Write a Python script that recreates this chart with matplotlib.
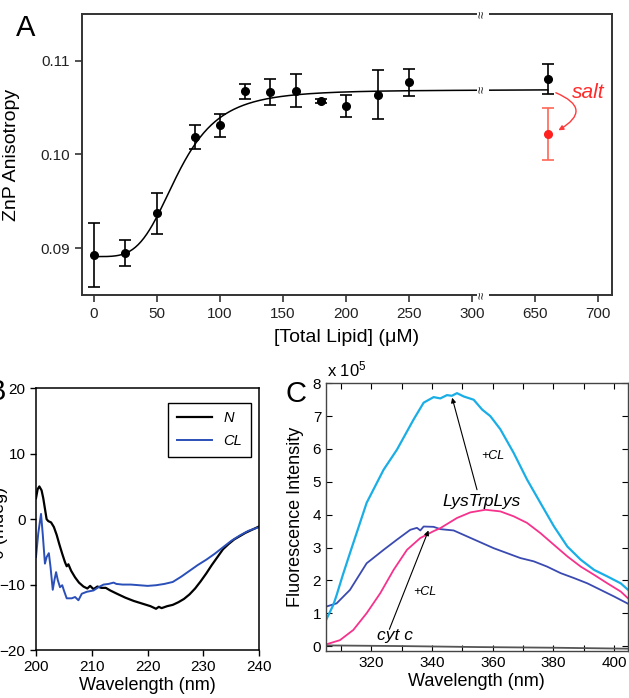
import numpy as np
import matplotlib
matplotlib.use('Agg')
import matplotlib.pyplot as plt
from matplotlib.patches import FancyArrowPatch

plt.rcParams['font.family'] = ['Liberation Sans', 'DejaVu Sans']
plt.rcParams['mathtext.default'] = 'regular'

# ---------------- Panel A data ----------------
lipid = [0, 25, 50, 80, 100, 120, 140, 160, 180, 200, 225, 250, 660]
aniso = [0.08925, 0.08947, 0.09374, 0.10189, 0.1031, 0.10676, 0.10669,
         0.10683, 0.10569, 0.1052, 0.10637, 0.10769, 0.10808]
aniso_err = [0.0034, 0.0014, 0.0022, 0.0013, 0.0012, 0.0008, 0.0014,
             0.0018, 0.0002, 0.0012, 0.0026, 0.0014, 0.0016]
salt_lipid = [660]
salt_aniso = [0.1022]
salt_err = [0.0028]
# Hill-type fit parameters of the drawn binding curve
fit_min, fit_max, fit_K, fit_n = 0.0891, 0.1069, 67.0, 4.0
a_xticks = [0, 50, 100, 150, 200, 250, 300, 650, 700]
a_yticks = [0.09, 0.10, 0.11]
break_low, break_high = 300, 650

# ---------------- Panel B data ----------------
cd_wl_n = [200, 200.3, 200.6, 201.0, 201.3, 201.6, 201.9, 202.2, 202.7, 203.2,
           203.7, 204.2, 204.7, 205.2, 205.5, 205.8, 206.3, 207.0, 207.7, 208.5,
           209.2, 209.7, 210.3, 211.0, 211.7, 212.5, 213.3, 214.5, 216.0, 217.5,
           219.0, 220.5, 221.5, 222.0, 222.5, 223.5, 224.5, 225.5, 226.5, 227.5,
           228.5, 229.5, 230.5, 231.5, 232.5, 233.5, 234.5, 235.5, 236.5, 237.5,
           238.5, 239.5, 240.0]
cd_n = [3.2, 4.6, 5.0, 4.4, 3.2, 1.6, 0.0, -0.3, -0.5, -1.2,
        -2.4, -3.9, -5.3, -6.6, -7.2, -6.9, -7.9, -8.9, -9.7, -10.3,
        -10.6, -10.2, -10.7, -10.3, -10.5, -10.5, -10.9, -11.4, -12.0, -12.5,
        -12.9, -13.3, -13.7, -13.4, -13.6, -13.3, -13.1, -12.7, -12.2, -11.5,
        -10.6, -9.5, -8.3, -7.0, -5.8, -4.6, -3.8, -3.1, -2.6, -2.1,
        -1.7, -1.3, -1.1]
cd_wl_cl = [200, 200.4, 200.9, 201.2, 201.6, 201.9, 202.3, 202.6, 203.0, 203.3,
            203.6, 203.9, 204.3, 204.7, 205.0, 205.5, 206.4, 207.0, 207.6, 208.2,
            209.1, 210.3, 211.2, 212.1, 213.0, 213.9, 214.4, 215.5, 217.0, 218.5,
            220.0, 221.5, 223.0, 224.5, 226.0, 227.5, 229.0, 230.5, 232.0, 233.5,
            235.0, 236.5, 238.0, 239.0, 240.0]
cd_cl = [-5.8, -2.2, 0.8, -2.2, -6.8, -5.8, -5.2, -7.3, -10.8, -9.3,
         -8.1, -9.3, -10.4, -10.1, -10.9, -12.1, -12.1, -11.9, -12.4, -11.4,
         -11.1, -10.9, -10.4, -10.0, -9.9, -9.7, -9.9, -10.0, -10.0, -10.1,
         -10.2, -10.1, -9.9, -9.6, -8.8, -7.9, -7.0, -6.2, -5.3, -4.3,
         -3.3, -2.5, -1.8, -1.5, -1.2]
b_xticks = [200, 210, 220, 230, 240]
b_yticks = [-20, -10, 0, 10, 20]

# ---------------- Panel C data (units of 1e5) ----------------
fl_wl_cyan = [305, 307.4, 308.5, 310.5, 312.9, 318.4, 324.0, 328.4, 333.9, 337.2,
              340.5, 342.7, 344.9, 346.5, 348.2, 350.4, 353.7, 356.5, 359.2, 362.5,
              366.9, 371.3, 375.7, 380.2, 384.6, 389.0, 393.4, 397.8, 402.2, 405.0]
fl_cyan = [0.79, 1.25, 1.55, 2.15, 2.83, 4.36, 5.37, 5.98, 6.90, 7.41,
           7.58, 7.54, 7.64, 7.62, 7.70, 7.60, 7.50, 7.20, 7.00, 6.60,
           5.88, 5.07, 4.36, 3.64, 3.03, 2.63, 2.32, 2.12, 1.91, 1.68]
fl_wl_pink = [305, 309.6, 314.0, 318.4, 322.9, 327.3, 331.7, 336.1, 340.5, 342.7,
              345.0, 348.2, 352.6, 357.6, 362.5, 366.9, 371.3, 375.7, 380.2, 384.6,
              389.0, 393.4, 397.8, 402.2, 405.0]
fl_pink = [0.05, 0.18, 0.49, 1.00, 1.61, 2.32, 2.93, 3.29, 3.50, 3.59,
           3.72, 3.90, 4.07, 4.15, 4.10, 3.95, 3.75, 3.44, 3.08, 2.73,
           2.42, 2.17, 1.91, 1.66, 1.42]
fl_wl_blue = [305, 308.5, 312.9, 318.4, 324.0, 328.4, 332.8, 335.0, 336.1, 337.2,
              340.5, 342.7, 347.1, 351.5, 355.9, 360.3, 364.7, 369.1, 373.5, 377.9,
              382.4, 386.8, 391.2, 395.6, 400.0, 405.0]
fl_blue = [1.20, 1.30, 1.71, 2.52, 2.93, 3.24, 3.54, 3.60, 3.52, 3.64,
           3.63, 3.56, 3.52, 3.34, 3.16, 2.98, 2.83, 2.68, 2.58, 2.42,
           2.22, 2.07, 1.91, 1.71, 1.51, 1.27]
fl_wl_gray = [305, 330, 355, 380, 405]
fl_gray = [0.02, 0.0, -0.03, -0.05, -0.08]
c_xticks = [320, 340, 360, 380, 400]
c_xminor = [310, 330, 350, 370, 390]
c_yticks = [0, 1, 2, 3, 4, 5, 6, 7, 8]

W, H = 629, 698
fig = plt.figure(figsize=(W / 100, H / 100), dpi=100)


def fr(x0, y0, x1, y1):
    return [x0 / W, 1 - y1 / H, (x1 - x0) / W, (y1 - y0) / H]


def fx(px):
    return px / W


def fy(py):
    return 1 - py / H


# ================= Panel A =================
def tx(x):
    x = np.asarray(x, dtype=float)
    return np.where(x > break_low, x - (break_high - break_low - 50), x)

axA = fig.add_axes(fr(82, 14, 611.6, 295))
col_sp = '#333333'
xs = np.concatenate([np.linspace(0, 300, 400), np.linspace(650, 660, 5)])
ys = fit_min + (fit_max - fit_min) * xs**fit_n / (fit_K**fit_n + xs**fit_n)
axA.plot(tx(xs), ys, color='black', lw=1.1, zorder=2)
axA.errorbar(tx(lipid), aniso, yerr=aniso_err, fmt='o', color='black',
             ms=5.5, capsize=4, elinewidth=1.2, capthick=1.2, zorder=3)
axA.errorbar(tx(salt_lipid), salt_aniso, yerr=salt_err, fmt='o',
             color='#ff2020', ecolor='#ff6655', ms=5.5, capsize=4,
             elinewidth=1.2, capthick=1.2, zorder=3)
axA.set_xlim(-9.2, 410.5)
axA.set_ylim(0.085, 0.115)
axA.set_xticks(tx(a_xticks))
axA.set_xticklabels([str(v) for v in a_xticks])
axA.set_yticks(a_yticks)
axA.set_yticklabels(['%.2f' % v for v in a_yticks])
axA.tick_params(direction='out', length=5, width=1.1, labelsize=11,
                colors='#222222')
for s in axA.spines.values():
    s.set_color(col_sp)
    s.set_linewidth(1.4)
axA.set_xlabel('[Total Lipid] (\u03bcM)', fontsize=14, labelpad=6)
axA.set_ylabel('ZnP Anisotropy', fontsize=14)
axA.yaxis.set_label_coords(-0.117, 0.5)
xb = 308.6
for yv, trans in [(1.0, axA.get_xaxis_transform()),
                  (0.0, axA.get_xaxis_transform()),
                  (fit_max, axA.transData)]:
    axA.text(xb, yv, '\u2248', transform=trans, rotation=90, fontsize=9.5,
             ha='center', va='center', color='#222222', clip_on=False,
             bbox=dict(boxstyle='square,pad=0.02', fc='white', ec='none'),
             zorder=5)
fig.text(fx(588), fy(92), 'salt', fontsize=15, style='italic',
         color='#ff2a2a', ha='center', va='center')
arr = FancyArrowPatch((fx(553.3), fy(91.7)), (fx(556), fy(131.7)),
                      transform=fig.transFigure,
                      connectionstyle='arc3,rad=-1.05', arrowstyle='-|>',
                      mutation_scale=7, color='#ff3a3a', lw=1.0)
fig.patches.append(arr)
fig.text(fx(26), fy(28), 'A', fontsize=21, ha='center', va='center')

# ================= Panel B =================
axB = fig.add_axes(fr(36, 388.3, 259.3, 650))
axB.plot(cd_wl_n, cd_n, color='black', lw=1.6, label='N')
axB.plot(cd_wl_cl, cd_cl, color='#2a4fb8', lw=1.4, label='CL')
axB.set_xlim(200, 240)
axB.set_ylim(-20, 20)
axB.set_xticks(b_xticks)
axB.set_yticks(b_yticks)
axB.tick_params(direction='out', length=4, width=1.0, labelsize=11)
for s in axB.spines.values():
    s.set_color('black')
    s.set_linewidth(1.1)
axB.set_xlabel('Wavelength (nm)', fontsize=13, labelpad=2)
leg = axB.legend(loc='upper right', bbox_to_anchor=(fx(250.7), fy(402.7)),
                 bbox_transform=fig.transFigure, borderaxespad=0,
                 fancybox=False, edgecolor='black', framealpha=1,
                 prop={'size': 10.5, 'style': 'italic'}, handlelength=2.4,
                 borderpad=0.6, labelspacing=0.6)
leg.get_frame().set_linewidth(1.0)
fig.text(fx(6), fy(392), 'B', fontsize=21, ha='right', va='center')
fig.text(fx(0), fy(523), '\u03b8 (mdeg)', fontsize=13, rotation=90,
         ha='center', va='center')

# ================= Panel C =================
axC = fig.add_axes(fr(326, 383.3, 627.7, 651))
axC.plot(fl_wl_gray, fl_gray, color='#555555', lw=1.3)
axC.plot(fl_wl_blue, fl_blue, color='#3a4ab0', lw=1.3)
axC.plot(fl_wl_pink, fl_pink, color='#f5328c', lw=1.3)
axC.plot(fl_wl_cyan, fl_cyan, color='#1aaee6', lw=1.6)
axC.set_xlim(305, 404.5)
axC.set_ylim(-0.15, 8.0)
axC.set_xticks(c_xticks)
axC.set_xticks(c_xminor, minor=True)
axC.set_yticks(c_yticks)
axC.tick_params(which='both', direction='in', length=4, width=0.8,
                top=True, right=True, labelsize=11)
for s in axC.spines.values():
    s.set_color('#444444')
    s.set_linewidth(1.0)
axC.set_xlabel('Wavelength (nm)', fontsize=13, labelpad=2)
axC.set_ylabel('Fluorescence Intensity', fontsize=13, labelpad=6)
fig.text(fx(327), fy(369), 'x 10$^5$', fontsize=12, ha='left', va='center')
axC.annotate('', xy=(346.6, 7.56), xytext=(354.8, 4.76),
             arrowprops=dict(arrowstyle='-|>', color='black', lw=0.8,
                             mutation_scale=7, shrinkA=0, shrinkB=0))
axC.annotate('', xy=(338.8, 3.52), xytext=(325.9, 0.51),
             arrowprops=dict(arrowstyle='-|>', color='black', lw=0.8,
                             mutation_scale=7, shrinkA=0, shrinkB=0))
axC.text(356.4, 4.40, 'LysTrpLys', fontsize=12.5, style='italic',
         ha='center', va='center')
axC.text(359.9, 5.80, '+CL', fontsize=9, style='italic', ha='center',
         va='center')
axC.text(337.7, 1.65, '+CL', fontsize=9, style='italic', ha='center',
         va='center')
axC.text(327.8, 0.31, 'cyt c', fontsize=12.5, style='italic', ha='center',
         va='center')
fig.text(fx(296), fy(394), 'C', fontsize=21, ha='center', va='center')

fig.savefig('out.png', dpi=100)
